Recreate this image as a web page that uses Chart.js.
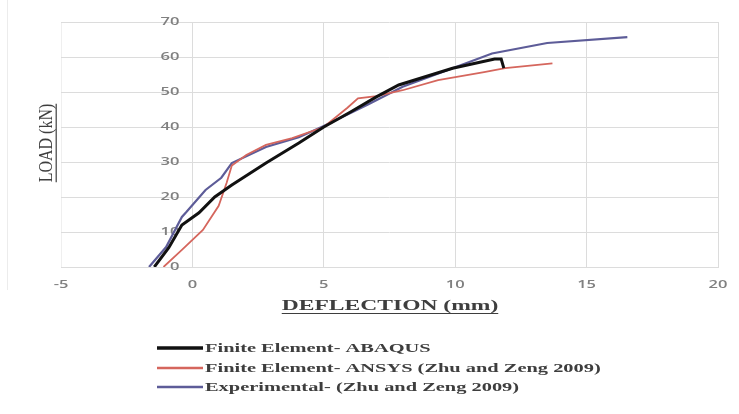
<!DOCTYPE html>
<html>
<head>
<meta charset="utf-8">
<script src="https://cdn.jsdelivr.net/npm/chart.js@4/dist/chart.umd.min.js"></script>
<style>
  html, body { margin: 0; padding: 0; background: #fff; }
  canvas { display: block; }
</style>
</head>
<body>
<canvas id="loadchart" width="739" height="414"></canvas>
<script>
// deflection (mm) / load (kN) pairs for each curve
const abaqusX = [-1.45, -0.9, -0.4, 0.25, 0.85, 1.5, 2.8, 4.05, 5.0, 6.0, 7.0, 7.85, 9.9, 11.5, 11.75, 11.85];
const abaqusY = [0, 5.5, 12, 15.5, 20, 23.4, 29.7, 35.4, 40.0, 44.2, 48.6, 52, 56.8, 59.4, 59.4, 56.8];

const ansysX = [-1.1, -0.4, 0.4, 1.0, 1.3, 1.5, 2.05, 2.8, 3.8, 5.0, 5.9, 6.3, 7.0, 8.0, 9.35, 11.1, 11.9, 13.7];
const ansysY = [0, 4.9, 10.6, 17.5, 24, 29, 32, 34.9, 36.8, 40, 45.5, 48.2, 48.8, 50.5, 53.4, 55.7, 56.8, 58.2];

const testX = [-1.65, -1.0, -0.4, -0.23, 0.5, 1.1, 1.5, 2.8, 4.05, 5.0, 6.7, 8.0, 9.9, 11.4, 13.5, 16.55];
const testY = [0, 5.7, 14.3, 15.7, 22, 25.5, 29.7, 34.3, 37.1, 40.3, 46.5, 51.5, 56.8, 61, 64, 65.7];

const seriesNames = [
  'Finite Element- ABAQUS',
  'Finite Element- ANSYS (Zhu and Zeng 2009)',
  'Experimental- (Zhu and Zeng 2009)'
];
const xTicks = [-5, 0, 5, 10, 15, 20];
const yTicks = [0, 10, 20, 30, 40, 50, 60, 70];

const colors = ['#111111', '#d5665d', '#5d5c98'];
const widths = [3, 1.8, 2.2];

function pairs(xs, ys) {
  return xs.map((x, i) => ({ x: x, y: ys[i] }));
}

const gridGray = '#dcdcdc';
const textGray = '#3e3e3e';
const tickGray = '#808080';
const tickStretch = 1.5;   // text in this figure is drawn wide
const titleStretch = 1.57;

// text drawn wide: scale x around the anchor point
function wideText(ctx, txt, x, y, align, sx) {
  ctx.save();
  ctx.translate(x, y);
  ctx.scale(sx, 1);
  ctx.textAlign = align;
  ctx.fillText(txt, 0, 0);
  ctx.restore();
}

const labelsPlugin = {
  id: 'figureText',
  beforeDatasetsDraw(chart) {
    const ctx = chart.ctx;
    const xs = chart.scales.x, ys = chart.scales.y;
    const area = chart.chartArea;
    ctx.save();
    ctx.fillStyle = tickGray;
    ctx.font = '600 11px "Open Sans"';
    ctx.textBaseline = 'middle';
    // y tick labels sit next to the x = 0 line
    const x0 = xs.getPixelForValue(0);
    yTicks.forEach(v => wideText(ctx, String(v), x0 - 13, ys.getPixelForValue(v), 'right', tickStretch));
    xTicks.forEach(v => wideText(ctx, String(v), xs.getPixelForValue(v), area.bottom + 18, 'center', tickStretch));

    // x axis title, underlined
    ctx.fillStyle = textGray;
    ctx.strokeStyle = textGray;
    ctx.font = 'bold 15px "Liberation Serif"';
    ctx.textBaseline = 'alphabetic';
    const tx = 390;
    const ty = area.bottom + 43;
    wideText(ctx, 'DEFLECTION (mm)', tx, ty, 'center', titleStretch);
    const tw = ctx.measureText('DEFLECTION (mm)').width * titleStretch;
    ctx.lineWidth = 1;
    ctx.beginPath();
    ctx.moveTo(tx - tw / 2, ty + 3.5);
    ctx.lineTo(tx + tw / 2, ty + 3.5);
    ctx.stroke();

    // y axis title, rotated and underlined
    ctx.font = '16px "Liberation Serif"';
    const yw = ctx.measureText('LOAD (kN)').width;
    ctx.save();
    ctx.translate(52, 143);
    ctx.rotate(-Math.PI / 2);
    ctx.scale(1, 1.2);
    ctx.textAlign = 'center';
    ctx.fillText('LOAD (kN)', 0, 0);
    ctx.beginPath();
    ctx.moveTo(-yw / 2, 3.5);
    ctx.lineTo(yw / 2, 3.5);
    ctx.stroke();
    ctx.restore();

    // legend, one row per series
    ctx.font = 'bold 13px "Liberation Serif"';
    ctx.textBaseline = 'middle';
    const rows = [348, 368, 387];
    seriesNames.forEach((name, i) => {
      ctx.strokeStyle = colors[i];
      ctx.lineWidth = widths[i] + 0.5;
      ctx.beginPath();
      ctx.moveTo(157, rows[i]);
      ctx.lineTo(203, rows[i]);
      ctx.stroke();
      ctx.fillStyle = textGray;
      wideText(ctx, name, 205, rows[i] + 1, 'left', titleStretch);
    });

    // faint frame edge on the left
    ctx.strokeStyle = '#ececec';
    ctx.lineWidth = 1;
    ctx.beginPath();
    ctx.moveTo(7.5, 0);
    ctx.lineTo(7.5, 290);
    ctx.stroke();
    ctx.restore();
  }
};

const ctx = document.getElementById('loadchart').getContext('2d');
const loadChart = new Chart(ctx, {
  type: 'scatter',
  data: {
    datasets: [
      { label: seriesNames[0], data: pairs(abaqusX, abaqusY) },
      { label: seriesNames[1], data: pairs(ansysX, ansysY) },
      { label: seriesNames[2], data: pairs(testX, testY) }
    ].map((d, i) => Object.assign(d, {
      showLine: true,
      borderColor: colors[i],
      backgroundColor: colors[i],
      borderWidth: widths[i],
      pointRadius: 0,
      tension: 0
    }))
  },
  options: {
    responsive: false,
    animation: false,
    devicePixelRatio: 1,
    layout: { padding: { left: 61, top: 22, right: 21, bottom: 147 } },
    scales: {
      x: {
        type: 'linear',
        min: -5, max: 20,
        afterBuildTicks: axis => { axis.ticks = xTicks.map(v => ({ value: v })); },
        ticks: { display: false },
        grid: {
          drawTicks: false,
          color: c => (c.tick && c.tick.value === -5) ? '#efefef' : gridGray
        },
        border: { color: gridGray }
      },
      y: {
        type: 'linear',
        min: 0, max: 70,
        afterBuildTicks: axis => { axis.ticks = yTicks.map(v => ({ value: v })); },
        ticks: { display: false },
        grid: { drawTicks: false, color: gridGray },
        border: { display: false }
      }
    },
    plugins: {
      legend: { display: false },
      tooltip: { enabled: false }
    }
  },
  plugins: [labelsPlugin]
});
</script>
</body>
</html>
